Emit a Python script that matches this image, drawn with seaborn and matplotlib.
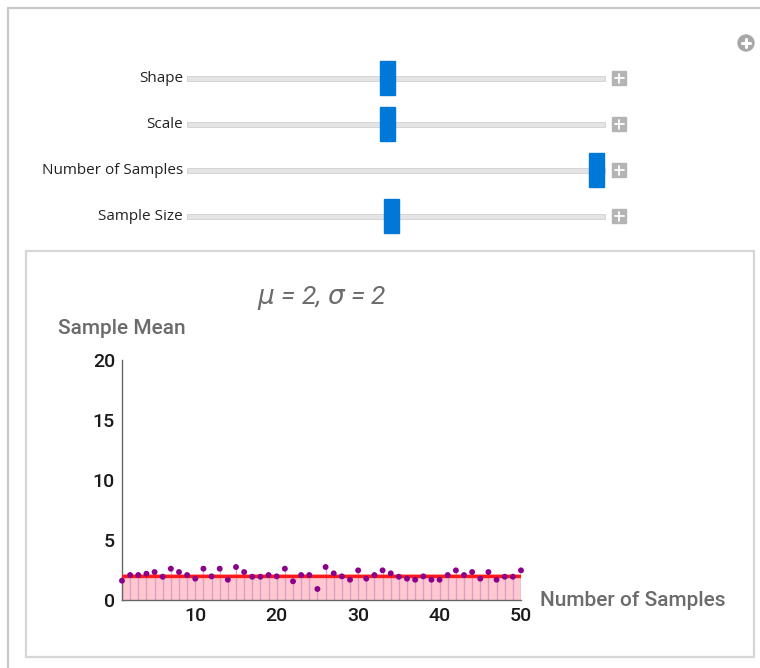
import numpy as np
import pandas as pd
import seaborn as sns
import matplotlib.pyplot as plt
from matplotlib.patches import Rectangle, Circle
from matplotlib.ticker import MultipleLocator

# Sample means (50 samples)
sample_idx = list(range(1, 51))
sample_means = [1.61, 2.08, 2.08, 2.19, 2.33, 1.94, 2.61, 2.33, 2.08, 1.78,
                2.61, 1.97, 2.61, 1.69, 2.75, 2.33, 1.94, 1.94, 2.08, 1.97,
                2.61, 1.56, 2.08, 2.08, 0.92, 2.75, 2.22, 1.97, 1.69, 2.47,
                1.78, 2.08, 2.47, 2.22, 1.94, 1.78, 1.69, 1.97, 1.69, 1.69,
                2.08, 2.47, 2.08, 2.33, 1.78, 2.33, 1.69, 1.94, 1.94, 2.47]
mu = 2
sigma = 2

# Control panel sliders (label, relative thumb position 0..1)
slider_labels = ["Shape", "Scale", "Number of Samples", "Sample Size"]
slider_pos = [0.48, 0.48, 0.98, 0.49]

df = pd.DataFrame({"n": sample_idx, "mean": sample_means})

sns.set_style("white")
plt.rcParams["font.family"] = ["Roboto", "DejaVu Sans"]

W, H = 760, 668
fig = plt.figure(figsize=(W / 100, H / 100), dpi=100)
fig.patch.set_facecolor("white")

# background / UI layer in pixel coords
bg = fig.add_axes([0, 0, 1, 1], zorder=0)
bg.set_xlim(0, W)
bg.set_ylim(H, 0)
bg.axis("off")

# outer frame
bg.plot([8, W], [8, 8], color="#c8c8c8", lw=1.6)
bg.plot([8, 8], [8, H], color="#c8c8c8", lw=1.6)
# plot panel frame
bg.add_patch(Rectangle((26, 251), 728, 406, facecolor="white",
                       edgecolor="#d6d6d6", lw=1.6))
# top-right icon
bg.add_patch(Circle((746, 43), 8, color="#a8a8a8"))
bg.plot([742, 750], [43, 43], color="white", lw=2.2)
bg.plot([746, 746], [39, 47], color="white", lw=2.2)

track_x0, track_x1 = 187, 605
for i, (lab, p) in enumerate(zip(slider_labels, slider_pos)):
    yc = 78 + 46 * i
    bg.text(183, yc, lab, ha="right", va="center", fontsize=11,
            family="Open Sans", color="#222222")
    bg.add_patch(Rectangle((track_x0, yc - 2.5), track_x1 - track_x0, 5,
                           facecolor="#e4e4e4", edgecolor="#d0d0d0", lw=0.6))
    tx = track_x0 + p * (track_x1 - track_x0)
    bg.add_patch(Rectangle((tx - 7.5, yc - 17), 15, 34, color="#0078d7"))
    bg.add_patch(Rectangle((612, yc - 7), 14, 14, color="#b4b4b4"))
    bg.plot([614.5, 623.5], [yc, yc], color="white", lw=1.3)
    bg.plot([619, 619], [yc - 4.5, yc + 4.5], color="white", lw=1.3)

# main plot
ax = fig.add_axes([122 / W, 1 - 600 / H, 399 / W, 240 / H], zorder=2)
ax.patch.set_alpha(0)

ax.fill_between(df["n"], 0, mu, color="#ffc8d0", lw=0, zorder=1)
ax.vlines(df["n"], 0, df["mean"], color="#d394c8", lw=1.0, alpha=0.8, zorder=2)
ax.axhspan(mu - 0.15, mu + 0.15, color="#ff6060", alpha=0.45, lw=0, zorder=3)
ax.axhline(mu, color="#ff1a1a", lw=2.4, zorder=4)
sns.scatterplot(data=df, x="n", y="mean", ax=ax, color="#8b008b", s=18,
                edgecolor="none", zorder=5, clip_on=False)

ax.set_xlim(1, 50)
ax.set_ylim(0, 20)
ax.xaxis.set_major_locator(MultipleLocator(10))
ax.xaxis.set_minor_locator(MultipleLocator(2))
ax.yaxis.set_major_locator(MultipleLocator(5))
ax.yaxis.set_minor_locator(MultipleLocator(1))
for s in ["top", "right"]:
    ax.spines[s].set_visible(False)
for s in ["left", "bottom"]:
    ax.spines[s].set_color("#666666")
    ax.spines[s].set_linewidth(1.0)
ax.tick_params(which="major", direction="in", length=5, width=1,
               color="#666666", labelsize=14, labelcolor="#1a1a1a")
ax.tick_params(axis="x", which="major", pad=5)
ax.tick_params(axis="y", which="major", pad=5)
ax.tick_params(which="minor", direction="in", length=3, width=0.8,
               color="#666666")
ax.set_xlabel("")
ax.set_ylabel("")
for lab in ax.get_xticklabels() + ax.get_yticklabels():
    lab.set_fontweight("medium")

# labels and title
fig.text(58 / W, 1 - 328 / H, "Sample Mean", ha="left", va="center",
         fontsize=15, color="#6b6b6b", fontweight="medium")
fig.text(540 / W, 1 - 601 / H, "Number of Samples", ha="left", va="center",
         fontsize=15, color="#6b6b6b", fontweight="medium")
fig.text(322 / W, 1 - 298 / H, r"$\mu$ = 2, $\sigma$ = 2", ha="center",
         va="center", fontsize=19, color="#6b6b6b", style="italic")

fig.savefig("out.png", dpi=100)
